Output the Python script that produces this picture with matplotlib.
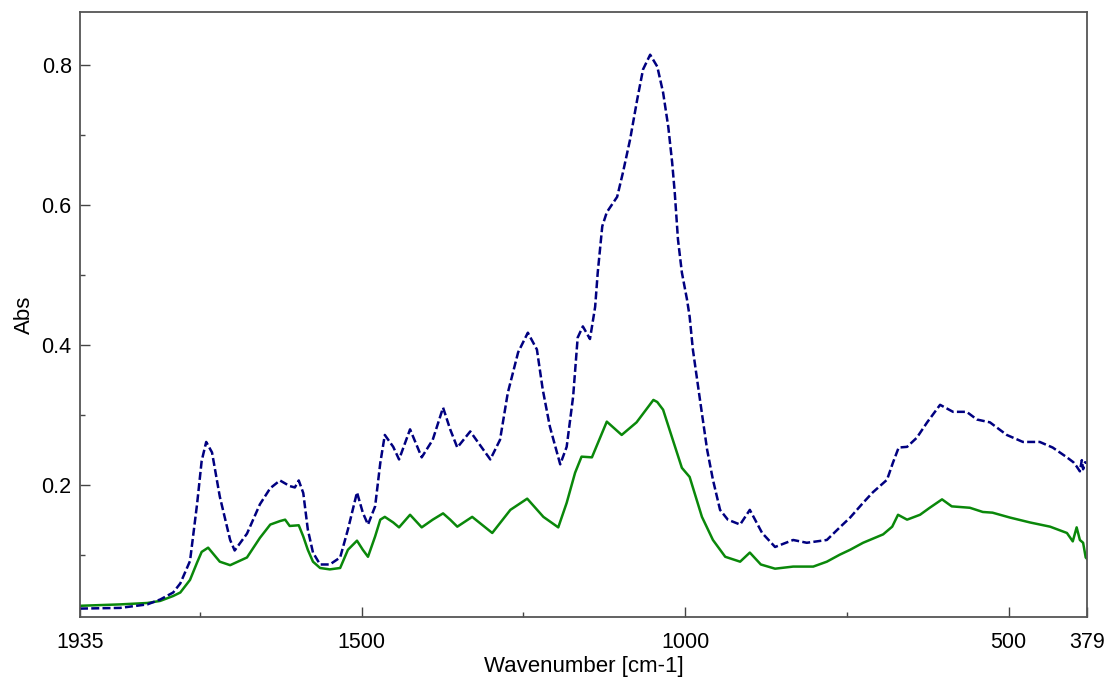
import numpy as np
import matplotlib.pyplot as plt

plt.rcParams['font.family'] = ['Liberation Sans', 'DejaVu Sans']

# dashed navy spectrum (wavenumber, absorbance)
wn_blue = [1935, 1873, 1831, 1811, 1791, 1780, 1765, 1754, 1747, 1740, 1731, 1719, 1703, 1696,
           1677, 1657, 1641, 1626, 1611, 1603, 1597, 1590, 1583, 1575, 1564, 1549, 1533, 1521,
           1507, 1498, 1490, 1479, 1471, 1464, 1451, 1442, 1425, 1407, 1390, 1374, 1363, 1352,
           1332, 1301, 1286, 1274, 1258, 1243, 1229, 1220, 1209, 1193, 1183, 1173, 1166, 1158,
           1147, 1139, 1135, 1128, 1121, 1105, 1096, 1085, 1074, 1065, 1054, 1043, 1034, 1026,
           1020, 1016, 1011, 1005, 997, 993, 988, 977, 966, 957, 946, 934, 915, 900, 881, 861,
           833, 812, 781, 761, 745, 725, 710, 688, 679, 670, 657, 642, 626, 606, 586, 565, 549,
           529, 503, 478, 452, 432, 410, 400, 395, 390, 387, 385, 382, 379]
abs_blue = [0.023, 0.024, 0.029, 0.036, 0.046, 0.059, 0.091, 0.173, 0.234, 0.261, 0.246, 0.183,
            0.121, 0.106, 0.130, 0.172, 0.195, 0.206, 0.198, 0.196, 0.206, 0.188, 0.136, 0.103,
            0.086, 0.086, 0.096, 0.136, 0.189, 0.160, 0.143, 0.169, 0.231, 0.271, 0.254, 0.236,
            0.279, 0.239, 0.264, 0.310, 0.279, 0.253, 0.276, 0.236, 0.264, 0.331, 0.389, 0.417,
            0.393, 0.336, 0.283, 0.229, 0.254, 0.326, 0.410, 0.426, 0.408, 0.454, 0.503, 0.569,
            0.589, 0.611, 0.646, 0.693, 0.750, 0.793, 0.814, 0.797, 0.760, 0.711, 0.660, 0.617,
            0.550, 0.503, 0.464, 0.440, 0.393, 0.321, 0.250, 0.207, 0.164, 0.150, 0.143, 0.164,
            0.131, 0.111, 0.121, 0.117, 0.121, 0.139, 0.153, 0.174, 0.189, 0.207, 0.231, 0.253,
            0.254, 0.267, 0.289, 0.314, 0.304, 0.304, 0.293, 0.289, 0.271, 0.261, 0.261, 0.253,
            0.239, 0.232, 0.226, 0.219, 0.235, 0.222, 0.232, 0.231]

# solid green spectrum
wn_green = [1935, 1873, 1831, 1811, 1791, 1780, 1765, 1754, 1747, 1737, 1719, 1703, 1677, 1657,
            1641, 1626, 1618, 1611, 1597, 1590, 1583, 1575, 1564, 1549, 1533, 1521, 1507, 1498,
            1490, 1479, 1471, 1464, 1451, 1442, 1425, 1407, 1390, 1374, 1363, 1352, 1329, 1298,
            1270, 1244, 1219, 1196, 1183, 1170, 1160, 1144, 1121, 1098, 1075, 1049, 1043, 1034,
            1019, 1005, 993, 974, 957, 938, 915, 900, 883, 861, 833, 802, 781, 761, 745, 725,
            694, 680, 671, 657, 637, 622, 603, 588, 560, 540, 525, 498, 467, 436, 410, 401, 395,
            390, 385, 381, 379]
abs_green = [0.027, 0.029, 0.031, 0.034, 0.041, 0.046, 0.064, 0.089, 0.104, 0.110, 0.090, 0.085,
             0.096, 0.124, 0.143, 0.148, 0.150, 0.141, 0.142, 0.126, 0.107, 0.090, 0.081, 0.079,
             0.081, 0.107, 0.120, 0.107, 0.097, 0.126, 0.150, 0.154, 0.146, 0.139, 0.157, 0.139,
             0.150, 0.159, 0.150, 0.140, 0.154, 0.131, 0.164, 0.180, 0.154, 0.139, 0.174, 0.217,
             0.240, 0.239, 0.290, 0.271, 0.289, 0.321, 0.318, 0.307, 0.264, 0.224, 0.211, 0.154,
             0.121, 0.097, 0.090, 0.103, 0.086, 0.080, 0.083, 0.083, 0.090, 0.100, 0.107, 0.117,
             0.129, 0.140, 0.157, 0.150, 0.157, 0.167, 0.179, 0.169, 0.167, 0.161, 0.160, 0.153,
             0.146, 0.140, 0.131, 0.119, 0.139, 0.121, 0.117, 0.096, 0.094]

x_ticks = [1935, 1500, 1000, 500, 379]
x_minor = [1750, 1250, 750]
y_ticks = [0.2, 0.4, 0.6, 0.8]
y_minor = [0.1, 0.3, 0.5, 0.7]

fig = plt.figure(figsize=(11.07, 6.79), dpi=100)
ax = fig.add_axes([80 / 1107, 62 / 679, 1007 / 1107, 605 / 679])

ax.plot(wn_green, abs_green, color='#0a880a', lw=1.8, solid_joinstyle='round')
ax.plot(wn_blue, abs_blue, color='#000080', lw=1.8, dashes=(3.2, 1.3))

ax.set_xlim(1935, 379)
ax.set_ylim(0.011, 0.875)

ax.set_xticks(x_ticks)
ax.set_xticklabels([str(t) for t in x_ticks])
ax.set_xticks(x_minor, minor=True)
ax.set_yticks(y_ticks)
ax.set_yticklabels(['0.2', '0.4', '0.6', '0.8'])
ax.set_yticks(y_minor, minor=True)

ax.tick_params(which='both', direction='in', colors='#444444', labelcolor='black', labelsize=15.5)
ax.tick_params(which='major', length=7, width=1)
ax.tick_params(which='minor', length=3.5, width=1)
ax.tick_params(axis='x', pad=11)
ax.tick_params(axis='y', pad=6)

for s in ax.spines.values():
    s.set_color('#555555')
    s.set_linewidth(1.3)

ax.set_xlabel('Wavenumber [cm-1]', fontsize=16, labelpad=2)
ax.set_ylabel('Abs', fontsize=16, labelpad=5)

fig.savefig('out.png', dpi=100)
